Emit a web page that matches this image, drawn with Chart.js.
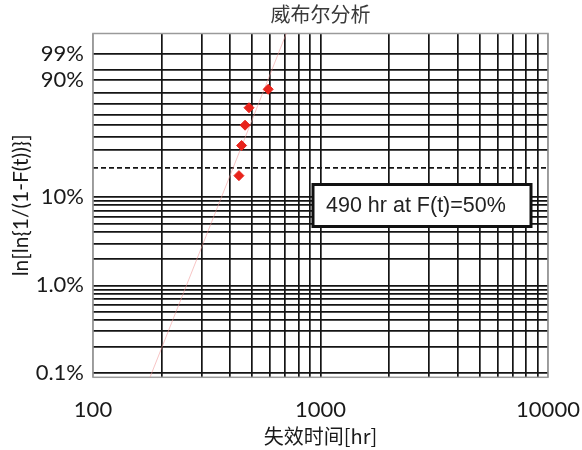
<!DOCTYPE html>
<html>
<head>
<meta charset="utf-8">
<script src="https://cdn.jsdelivr.net/npm/chart.js@4/dist/chart.umd.min.js"></script>
<style>
html,body{margin:0;padding:0;background:#fff;}
#wrap{width:582px;height:450px;}
</style>
</head>
<body>
<div id="wrap"><canvas id="c" width="582" height="450"></canvas></div>
<script>
// ---- data ----
const failTimesHr   = [438, 450, 466, 485, 589];
const failProbPct   = [16.7, 33.3, 50.0, 66.7, 83.3];
const fitLineTimesHr = [177, 490, 711];
const fitLineProbPct = [0.085, 50, 99.97];
const yGridPct   = [0.1,0.2,0.3,0.4,0.5,0.6,0.7,0.8,0.9,1,2,3,4,5,6,7,8,9,10,20,30,40,50,60,70,80,90,95,99];
const yLabelPct  = [0.1, 1, 10, 90, 99];
const yLabelText = ['0.1%', '1.0%', '10%', '90%', '99%'];
const xGridHr    = [100,200,300,400,500,600,700,800,900,1000,2000,3000,4000,5000,6000,7000,8000,9000,10000];
const xLabelHr   = [100, 1000, 10000];
const dashedPct  = 20;
const yRangePct  = [0.0884, 99.96];
const xRangeHr   = [100, 10000];
const chartTitle = '威布尔分析';
const xTitle = '失效时间[hr]';
const yTitle = 'ln[ln{1/(1-F(t))}]';
const noteText = '490 hr at F(t)=50%';

// Weibull probability transform
const wb = p => Math.log(-Math.log(1 - p / 100));

const pointsData = failTimesHr.map((t, i) => ({x: t, y: wb(failProbPct[i])}));
const fitData = fitLineTimesHr.map((t, i) => ({x: t, y: wb(fitLineProbPct[i])}));
const dashedW = wb(dashedPct);

const framePlugin = {
  id: 'frame',
  beforeDatasetsDraw(chart) {
    const {ctx, chartArea: a} = chart;
    ctx.save();
    ctx.strokeStyle = '#9a9a9a';
    ctx.lineWidth = 1.5;
    ctx.strokeRect(a.left, a.top, a.right - a.left, a.bottom - a.top);
    ctx.restore();
  },
  afterDatasetsDraw(chart) {
    const {ctx, chartArea: a} = chart;
    const bx = a.left + 220, by = a.top + 151, bw = 218, bh = 42;
    ctx.save();
    ctx.fillStyle = '#fff';
    ctx.fillRect(bx, by, bw, bh);
    ctx.strokeStyle = '#111';
    ctx.lineWidth = 3;
    ctx.strokeRect(bx, by, bw, bh);
    ctx.fillStyle = '#222';
    ctx.font = '21.5px "Liberation Sans", Arial, sans-serif';
    ctx.textBaseline = 'middle';
    ctx.textAlign = 'left';
    ctx.fillText(noteText, bx + 13, by + bh / 2 + 1);
    ctx.restore();
  }
};

new Chart(document.getElementById('c'), {
  type: 'scatter',
  data: {
    datasets: [
      {
        label: 'fit',
        data: fitData,
        showLine: true,
        borderColor: 'rgba(240,150,150,0.55)',
        borderWidth: 1,
        pointRadius: 0,
        fill: false,
        order: 2
      },
      {
        label: 'failures',
        data: pointsData,
        pointStyle: 'rectRot',
        pointRadius: 5,
        backgroundColor: '#e8231b',
        borderColor: '#e8231b',
        borderWidth: 1,
        showLine: false,
        order: 1
      }
    ]
  },
  options: {
    responsive: false,
    animation: false,
    devicePixelRatio: 1,
    layout: {padding: {left: 0, right: 34, top: 0, bottom: 0}},
    plugins: {
      legend: {display: false},
      tooltip: {enabled: false},
      title: {
        display: true,
        text: chartTitle,
        fullSize: false,
        color: '#3a3a3a',
        font: {family: '"Noto Sans CJK SC", sans-serif', size: 20, weight: 'normal', lineHeight: 1.2},
        padding: {top: 2, bottom: 7.5}
      }
    },
    scales: {
      x: {
        type: 'logarithmic',
        min: xRangeHr[0],
        max: xRangeHr[1],
        afterBuildTicks: s => { s.ticks = xGridHr.map(v => ({value: v})); },
        afterFit: s => { s.height = 72.7; s.paddingLeft = 0; s.paddingRight = 0; },
        ticks: {
          autoSkip: false,
          maxRotation: 0,
          padding: 19,
          color: '#1a1a1a',
          font: {family: 'Lato, sans-serif', size: 22},
          callback: v => xLabelHr.includes(v) ? String(v) : ''
        },
        grid: {
          drawTicks: false,
          color: c => (c.tick && (c.tick.value === xRangeHr[0] || c.tick.value === xRangeHr[1])) ? '#9a9a9a' : '#141414',
          lineWidth: 1.7
        },
        border: {display: false},
        title: {
          display: true,
          text: xTitle,
          color: '#1a1a1a',
          font: {family: '"Noto Sans CJK SC", sans-serif', size: 20},
          padding: {top: 0, bottom: 2}
        }
      },
      y: {
        type: 'linear',
        min: wb(yRangePct[0]),
        max: wb(yRangePct[1]),
        afterBuildTicks: s => { s.ticks = yGridPct.map(p => ({value: wb(p)})); },
        afterFit: s => { s.width = 93; s.paddingTop = 0; s.paddingBottom = 0; },
        ticks: {
          autoSkip: false,
          padding: 9,
          color: '#1a1a1a',
          font: {family: 'Lato, sans-serif', size: 22},
          callback: (v, i) => {
            const k = yLabelPct.indexOf(yGridPct[i]);
            return k >= 0 ? yLabelText[k] : '';
          }
        },
        grid: {
          drawTicks: false,
          color: '#141414',
          lineWidth: 1.7
        },
        border: {
          display: false,
          dash: c => (c.tick && Math.abs(c.tick.value - dashedW) < 1e-9) ? [5, 3] : []
        },
        title: {
          display: true,
          text: yTitle,
          color: '#1a1a1a',
          font: {family: 'Lato, sans-serif', size: 21},
          padding: {top: 9, bottom: 0}
        }
      }
    }
  },
  plugins: [framePlugin]
});
</script>
</body>
</html>
